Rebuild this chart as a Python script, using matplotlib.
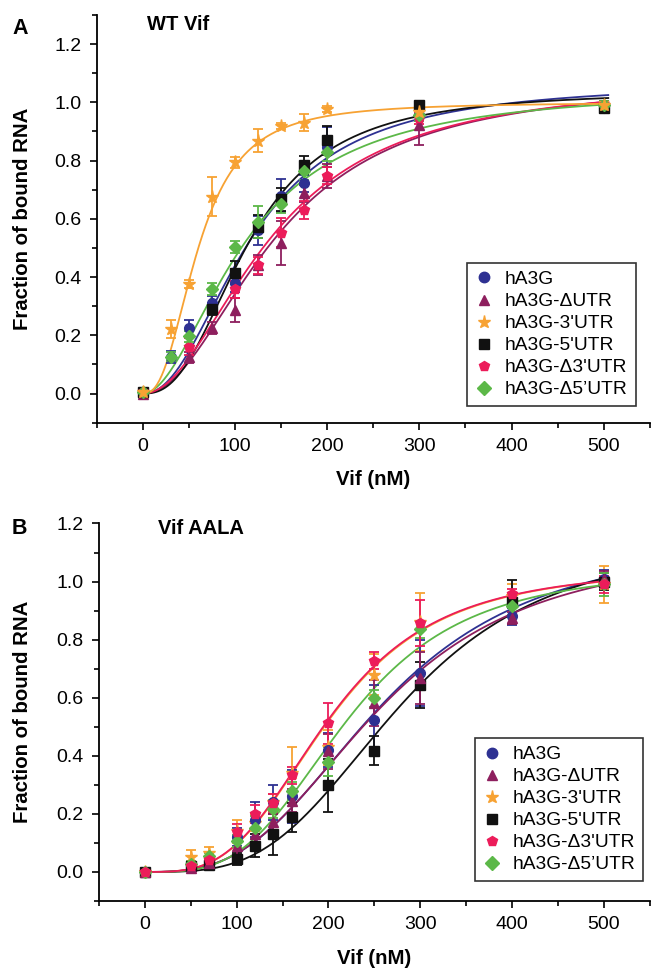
import numpy as np
import matplotlib
matplotlib.use('Agg')
import matplotlib.pyplot as plt
from matplotlib.lines import Line2D
from matplotlib.ticker import MultipleLocator

plt.rcParams['font.family'] = ['Liberation Sans', 'DejaVu Sans']

# Series names, colours, markers
labels = ['hA3G', 'hA3G-\u0394UTR', "hA3G-3'UTR", "hA3G-5'UTR", "hA3G-\u03943'UTR", 'hA3G-\u03945\u2019UTR']
colors = ['#2e3192', '#8e1f5e', '#f7a233', '#111111', '#ec1c5a', '#5cb848']
markers = ['o', '^', '*', 's', 'p', 'D']

# Panel A: WT Vif
nan = np.nan
xTop = [0, 30, 50, 75, 100, 125, 150, 175, 200, 300, 500]
yTop = [
    [0.005, 0.125, 0.224, 0.31, 0.38, 0.56, 0.68, 0.722, 0.847, 0.955, 0.98],
    [0.0, nan, 0.124, 0.224, 0.287, 0.441, 0.516, 0.687, 0.747, 0.922, 0.99],
    [0.005, 0.221, 0.376, 0.676, 0.794, 0.868, 0.918, 0.93, 0.977, 0.968, 0.99],
    [0.005, nan, nan, 0.29, 0.415, 0.573, 0.667, 0.785, 0.87, 0.99, 0.98],
    [0.005, nan, 0.161, nan, 0.358, 0.44, 0.553, 0.63, 0.748, 0.945, 0.99],
    [0.005, 0.127, 0.196, 0.358, 0.504, 0.59, 0.651, 0.765, 0.83, 0.955, 0.99],
]
errTop = [
    [0.005, 0.02, 0.03, 0.025, 0.03, 0.05, 0.057, 0.03, 0.07, 0.02, 0.015],
    [0.005, nan, 0.02, 0.02, 0.04, 0.035, 0.075, 0.03, 0.04, 0.07, 0.015],
    [0.005, 0.03, 0.015, 0.068, 0.02, 0.039, 0.01, 0.03, 0.01, 0.01, 0.01],
    [0.005, nan, nan, 0.02, 0.04, 0.04, 0.04, 0.03, 0.05, 0.01, 0.015],
    [0.005, nan, 0.03, nan, 0.03, 0.03, 0.05, 0.03, 0.03, 0.02, 0.015],
    [0.005, 0.015, 0.02, 0.02, 0.02, 0.055, 0.03, 0.03, 0.03, 0.02, 0.015],
]
# Hill fit parameters (Bmax, K, n)
fitTop = [(1.07, 118, 2.15), (1.08, 145, 2.05), (1.0, 60, 2.5),
          (1.04, 115, 2.5), (1.08, 140, 2.0), (1.05, 112, 1.9)]

# Panel B: Vif AALA
xBot = [0, 50, 70, 100, 120, 140, 160, 200, 250, 300, 400, 500]
yBot = [
    [0.0, 0.02, 0.04, 0.12, 0.18, 0.24, 0.26, 0.42, 0.523, 0.685, 0.88, 1.01],
    [0.0, 0.015, 0.03, 0.09, 0.13, 0.171, 0.246, 0.416, 0.581, 0.667, 0.875, 1.008],
    [0.0, 0.05, 0.067, 0.14, 0.17, 0.24, 0.34, 0.43, 0.679, 0.86, 0.95, 0.99],
    [0.0, 0.02, 0.025, 0.044, 0.09, 0.13, 0.188, 0.298, 0.417, 0.644, 0.93, 1.0],
    [0.0, 0.02, 0.04, 0.136, 0.2, 0.237, 0.333, 0.512, 0.728, 0.858, 0.956, 0.99],
    [0.0, 0.027, 0.055, 0.107, 0.153, 0.217, 0.28, 0.379, 0.598, 0.835, 0.915, 0.99],
]
errBot = [
    [0.005, 0.01, 0.015, 0.03, 0.06, 0.06, 0.09, 0.06, 0.12, 0.115, 0.03, 0.03],
    [0.005, 0.01, 0.01, 0.03, 0.04, 0.03, 0.04, 0.06, 0.08, 0.09, 0.02, 0.03],
    [0.005, 0.025, 0.02, 0.04, 0.03, 0.03, 0.09, 0.06, 0.07, 0.1, 0.04, 0.065],
    [0.005, 0.01, 0.01, 0.02, 0.04, 0.07, 0.05, 0.09, 0.05, 0.08, 0.075, 0.03],
    [0.005, 0.01, 0.015, 0.03, 0.03, 0.03, 0.03, 0.07, 0.03, 0.08, 0.02, 0.03],
    [0.005, 0.01, 0.01, 0.02, 0.04, 0.03, 0.03, 0.05, 0.03, 0.03, 0.03, 0.04],
]
fitBot = [(1.15, 258, 3.0), (1.12, 255, 3.0), (1.05, 201, 3.3),
          (1.15, 279, 3.4), (1.05, 200, 3.3), (1.05, 221, 3.4)]


def hill(x, bmax, k, n):
    return bmax * (x / k) ** n / (1 + (x / k) ** n)


def drawPanel(ax, xVals, yVals, errVals, fits, ymax, legendAnchor, order):
    # Fitted binding curves
    xCurve = np.linspace(0, 505, 400)
    for i in order:
        bmax, k, n = fits[i]
        ax.plot(xCurve, hill(xCurve, bmax, k, n), color=colors[i], lw=1.3, zorder=2)

    # Data points with error bars
    for i in order:
        x = np.array(xVals, dtype=float)
        y = np.array(yVals[i], dtype=float)
        e = np.array(errVals[i], dtype=float)
        ok = ~np.isnan(y)
        ms = 9.5 if markers[i] == '*' else 7
        if markers[i] == 'D':
            ms = 6.5
        ax.errorbar(x[ok], y[ok], yerr=e[ok], fmt=markers[i], color=colors[i],
                    ms=ms, elinewidth=1.3, capsize=3.5, capthick=1.3, zorder=3)

    ax.set_xlim(-50, 550)
    ax.set_ylim(-0.1, ymax)
    ax.xaxis.set_minor_locator(MultipleLocator(50))
    ax.yaxis.set_minor_locator(MultipleLocator(0.1))
    ax.set_xticks([0, 100, 200, 300, 400, 500])
    ax.set_yticks([0.0, 0.2, 0.4, 0.6, 0.8, 1.0, 1.2])
    ax.yaxis.set_major_formatter(plt.FuncFormatter(lambda v, p: '%.1f' % v))
    ax.spines['top'].set_visible(False)
    ax.spines['right'].set_visible(False)
    ax.spines['left'].set_linewidth(1.3)
    ax.spines['bottom'].set_linewidth(1.3)
    ax.tick_params(which='major', direction='out', length=5, width=1.2, labelsize=14, pad=6)
    ax.tick_params(which='minor', direction='out', length=3.5, width=1.2)
    ax.set_xlabel('Vif (nM)', fontsize=14.7, fontweight='bold', labelpad=11)
    ax.set_ylabel('Fraction of bound RNA', fontsize=14.7, fontweight='bold')

    # Legend with marker-only handles
    handles = [Line2D([], [], marker=markers[i], color=colors[i], ls='none',
                      ms=(9.5 if markers[i] == '*' else 7.5)) for i in range(6)]
    leg = ax.legend(handles, labels, loc='lower left', bbox_to_anchor=legendAnchor,
                    fontsize=13.8, frameon=True, fancybox=False, edgecolor='black',
                    handlelength=1.0, handletextpad=0.6, labelspacing=0.24,
                    borderpad=0.4, borderaxespad=0)
    leg.get_frame().set_linewidth(1.2)


fig = plt.figure(figsize=(6.51, 9.73), dpi=100)
axTop = fig.add_axes([0.149, 0.5656, 0.849, 0.419])
axBot = fig.add_axes([0.152, 0.074, 0.846, 0.388])

drawPanel(axTop, xTop, yTop, errTop, fitTop, 1.3, (0.669, 0.041), [0, 1, 3, 4, 5, 2])
drawPanel(axBot, xBot, yBot, errBot, fitBot, 1.2, (0.682, 0.053), [2, 0, 3, 1, 5, 4])

# Panel titles and letters
fig.text(147 / 651, 1 - 25 / 973, 'WT Vif', fontsize=14.5, fontweight='bold', va='center')
fig.text(158 / 651, 1 - 528 / 973, 'Vif AALA', fontsize=14.5, fontweight='bold', va='center')
fig.text(12 / 651, 1 - 29 / 973, 'A', fontsize=15.5, fontweight='bold', va='center')
fig.text(12 / 651, 1 - 528 / 973, 'B', fontsize=15.5, fontweight='bold', va='center')

axTop.yaxis.set_label_coords(-0.117, 0.5)
axBot.yaxis.set_label_coords(-0.121, 0.5)

fig.savefig('out.png', dpi=100)
